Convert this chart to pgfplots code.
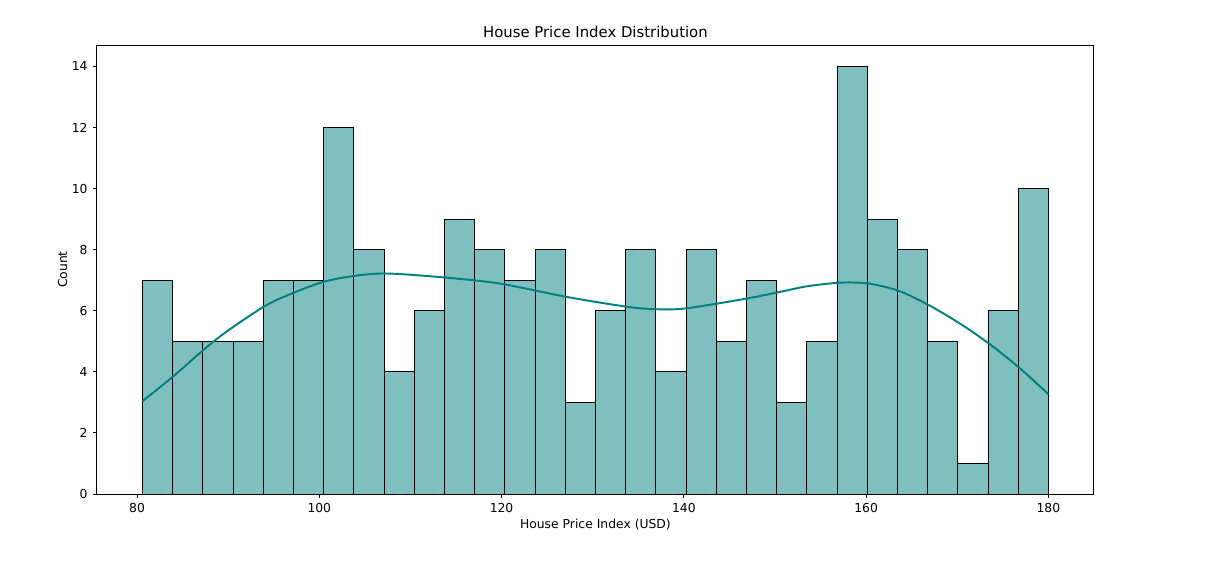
\documentclass[border=0pt]{standalone}
\usepackage{pgfplots}
\pgfplotsset{compat=1.18}
\usepackage{fontspec}
\setmainfont{DejaVu Sans}
\definecolor{barfill}{RGB}{128,191,191}
\definecolor{kde}{RGB}{0,128,128}
\begin{document}
\begin{tikzpicture}
\path (0,0) rectangle (868.3pt,406.8pt);
\begin{axis}[
  at={(69.8pt,51.1pt)}, anchor=south west,
  scale only axis,
  width=717.8pt, height=323.3pt,
  xmin=75.6, xmax=185.0, ymin=0, ymax=14.7,
  xtick={80,100,120,140,160,180},
  ytick={0,2,4,6,8,10,12,14},
  tick pos=left,
  tick align=outside,
  major tick length=3.2pt,
  tick style={black, line width=0.7pt},
  axis line style={line width=0.7pt},
  /pgf/number format/assume math mode=true,
  ticklabel style={font=\fontsize{8.9}{10.5}\selectfont},
  title={House Price Index Distribution},
  title style={font=\fontsize{10.7}{12.5}\selectfont, yshift=-4pt},
  xlabel={House Price Index (USD)},
  ylabel={Count},
  label style={font=\fontsize{8.9}{10.5}\selectfont},
  xlabel style={yshift=2pt},
  ylabel style={yshift=-3.5pt},
  clip=false,
]
\addplot[ybar interval, fill=barfill, draw=black, line width=0.6pt] coordinates {
(80.600,7) (83.913,5) (87.227,5) (90.540,5) (93.853,7) (97.167,7)
(100.480,12) (103.793,8) (107.107,4) (110.420,6) (113.733,9) (117.047,8)
(120.360,7) (123.673,8) (126.987,3) (130.300,6) (133.613,8) (136.927,4)
(140.240,8) (143.553,5) (146.867,7) (150.180,3) (153.493,5) (156.807,14)
(160.120,9) (163.433,8) (166.747,5) (170.060,1) (173.373,6) (176.687,10)
(180.000,10)
};
\addplot[kde, line width=1.4pt, smooth, tension=0.5] coordinates {
(80.6,3.04) (84.0,3.86) (88.8,5.09) (93.9,6.13) (97.2,6.59) (100.5,6.95)
(103.8,7.14) (107.4,7.22) (113.7,7.09) (119.8,6.89) (127.2,6.45) (133.8,6.13)
(137.0,6.05) (140.3,6.08) (146.9,6.40) (150.6,6.62) (153.5,6.80) (157.2,6.92)
(160.3,6.89) (163.6,6.65) (166.9,6.18) (170.3,5.58) (173.6,4.90) (176.9,4.11)
(180.0,3.27)
};
\end{axis}
\end{tikzpicture}
\end{document}
